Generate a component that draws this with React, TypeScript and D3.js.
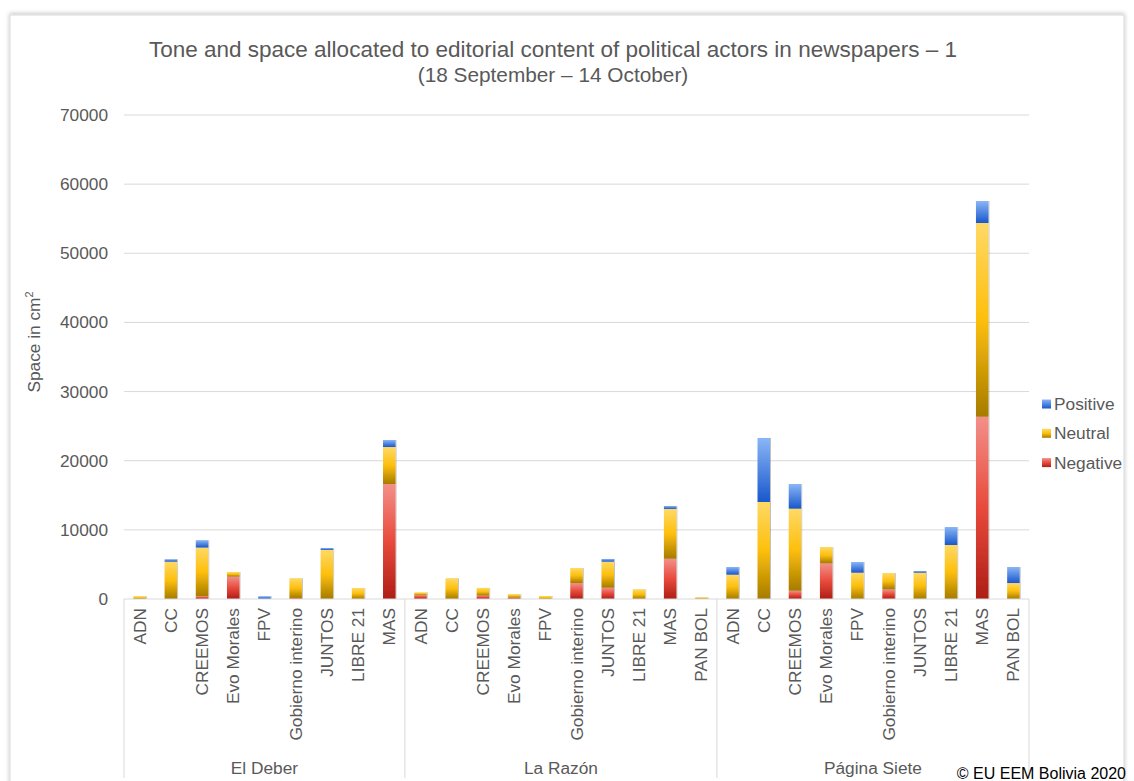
import React from "react";
import * as d3 from "d3";

const groups = ["El Deber", "La Razón", "Página Siete"];
const categories: string[][] = [
  ["ADN", "CC", "CREEMOS", "Evo Morales", "FPV", "Gobierno interino", "JUNTOS", "LIBRE 21", "MAS"],
  ["ADN", "CC", "CREEMOS", "Evo Morales", "FPV", "Gobierno interino", "JUNTOS", "LIBRE 21", "MAS", "PAN BOL"],
  ["ADN", "CC", "CREEMOS", "Evo Morales", "FPV", "Gobierno interino", "JUNTOS", "LIBRE 21", "MAS", "PAN BOL"],
];
const negativeValues: number[][] = [
  [0, 0, 400, 3250, 0, 150, 0, 0, 16630],
  [550, 0, 500, 200, 0, 2300, 1640, 0, 5830, 0],
  [0, 0, 1200, 5160, 0, 1400, 0, 0, 26370, 0],
];
const neutralValues: number[][] = [
  [400, 5400, 7050, 650, 0, 2850, 7090, 1590, 5350],
  [400, 3000, 1100, 500, 430, 2180, 3760, 1400, 7190, 250],
  [3520, 14030, 11870, 2360, 3810, 2360, 3810, 7810, 28010, 2310],
];
const positiveValues: number[][] = [
  [0, 350, 1050, 0, 400, 0, 290, 0, 1020],
  [0, 0, 0, 0, 0, 0, 390, 0, 430, 0],
  [1110, 9260, 3560, 0, 1540, 0, 240, 2600, 3180, 2320],
];
const seriesNames = ["Negative", "Neutral", "Positive"];
const yTicks = [0, 10000, 20000, 30000, 40000, 50000, 60000, 70000];

type Row = { key: string; group: string; cat: string; Negative: number; Neutral: number; Positive: number };
const rows: Row[] = [];
groups.forEach((g, gi) =>
  categories[gi].forEach((c, ci) =>
    rows.push({
      key: g + "|" + c,
      group: g,
      cat: c,
      Negative: negativeValues[gi][ci],
      Neutral: neutralValues[gi][ci],
      Positive: positiveValues[gi][ci],
    })
  )
);

const W = 1134;
const H = 781;
const left = 124;
const right = 1029;
const top = 115;
const bottom = 599;
const font = "Arial, 'Liberation Sans', sans-serif";
const textColor = "#595959";

export default function App() {
  const x = d3.scaleBand<string>().domain(rows.map((r) => r.key)).range([left, right]).paddingInner(0.6).paddingOuter(0.3);
  const y = d3.scaleLinear().domain([0, 70000]).range([bottom, top]);
  const stack = d3.stack<Row>().keys(seriesNames);
  const stacked = stack(rows);
  const grads = ["gNeg", "gNeu", "gPos"];

  const step = x.step();
  let idx = 0;
  const bounds: { g: string; x0: number; x1: number }[] = [];
  groups.forEach((g, gi) => {
    const n = categories[gi].length;
    const x0 = left + idx * step;
    const x1 = left + (idx + n) * step;
    bounds.push({ g, x0, x1 });
    idx += n;
  });

  return (
    <svg width={W} height={H} style={{ position: "absolute", left: 0, top: 0, background: "#fff" }} fontFamily={font}>
      <defs>
        <linearGradient id="gPos" x1="0" y1="0" x2="0" y2="1">
          <stop offset="0" stopColor="#8ab6f6" />
          <stop offset="1" stopColor="#1957cc" />
        </linearGradient>
        <linearGradient id="gNeu" x1="0" y1="0" x2="0" y2="1">
          <stop offset="0" stopColor="#ffd966" />
          <stop offset="0.5" stopColor="#fdbf0c" />
          <stop offset="1" stopColor="#a67b00" />
        </linearGradient>
        <linearGradient id="gNeg" x1="0" y1="0" x2="0" y2="1">
          <stop offset="0" stopColor="#f39089" />
          <stop offset="0.5" stopColor="#e84a3c" />
          <stop offset="1" stopColor="#ae1e16" />
        </linearGradient>
        <filter id="barShadow" x="-20%" y="-5%" width="140%" height="110%">
          <feDropShadow dx="1" dy="0" stdDeviation="0.6" floodColor="#000" floodOpacity="0.25" />
        </filter>
        <filter id="frameShadow" x="-5%" y="-5%" width="110%" height="110%">
          <feDropShadow dx="0" dy="-1" stdDeviation="2" floodColor="#000" floodOpacity="0.25" />
        </filter>
      </defs>
      <rect x={0} y={0} width={W} height={H} fill="#fff" />
      <rect x={10} y={15} width={1114} height={800} fill="#fff" stroke="#d9d9d9" strokeWidth={1} filter="url(#frameShadow)" />

      {/* title */}
      <text x={553} y={57} textAnchor="middle" fontSize={22.5} fill={textColor}>
        Tone and space allocated to editorial content of political actors in newspapers – 1
      </text>
      <text x={553} y={82} textAnchor="middle" fontSize={20.8} fill={textColor}>
        (18 September – 14 October)
      </text>

      {/* gridlines */}
      {yTicks.map((t) => (
        <g key={t}>
          {t > 0 && <line x1={left} x2={right} y1={y(t)} y2={y(t)} stroke="#d9d9d9" strokeWidth={1} />}
          <text x={108} y={y(t)} dy="0.35em" textAnchor="end" fontSize={17.3} fill={textColor}>
            {t}
          </text>
        </g>
      ))}

      {/* y axis title */}
      <text transform={`translate(40,342) rotate(-90)`} textAnchor="middle" fontSize={17.3} fill={textColor}>
        Space in cm<tspan dy="-7" fontSize={11}>2</tspan>
      </text>

      {/* bars */}
      {stacked.map((s, si) => (
        <g key={s.key} fill={`url(#${grads[si]})`}>
          {s.map((d) => {
            const h = y(d[0]) - y(d[1]);
            if (h <= 0) return null;
            return (
              <rect
                key={d.data.key}
                x={x(d.data.key)}
                y={y(d[1])}
                width={x.bandwidth()}
                height={h}
                filter="url(#barShadow)"
              />
            );
          })}
        </g>
      ))}

      {/* x axis */}
      <line x1={left} x2={right} y1={bottom} y2={bottom} stroke="#d9d9d9" strokeWidth={1} />
      {bounds.map((b, i) => (
        <line key={"s" + i} x1={b.x0} x2={b.x0} y1={bottom} y2={778} stroke="#d9d9d9" strokeWidth={1} />
      ))}
      <line x1={right} x2={right} y1={bottom} y2={778} stroke="#d9d9d9" strokeWidth={1} />
      {rows.map((r) => (
        <text
          key={"l" + r.key}
          transform={`translate(${(x(r.key) as number) + x.bandwidth() / 2},608) rotate(-90)`}
          textAnchor="end"
          dy="0.35em"
          fontSize={17.3}
          fill={textColor}
        >
          {r.cat}
        </text>
      ))}
      {bounds.map((b) => (
        <text key={"g" + b.g} x={(b.x0 + b.x1) / 2} y={768} dy="0.35em" textAnchor="middle" fontSize={17.3} fill={textColor}>
          {b.g}
        </text>
      ))}

      {/* legend */}
      {["Positive", "Neutral", "Negative"].map((nm, i) => {
        const gi = seriesNames.indexOf(nm);
        const cy = 404 + i * 29.3;
        return (
          <g key={nm}>
            <rect x={1042} y={cy - 4.5} width={9} height={9} fill={`url(#${grads[gi]})`} />
            <text x={1054} y={cy} dy="0.35em" fontSize={17.3} fill={textColor}>
              {nm}
            </text>
          </g>
        );
      })}

      <text x={1126} y={773} dy="0.35em" textAnchor="end" fontSize={16} fill="#000">
        © EU EEM Bolivia 2020
      </text>
    </svg>
  );
}
